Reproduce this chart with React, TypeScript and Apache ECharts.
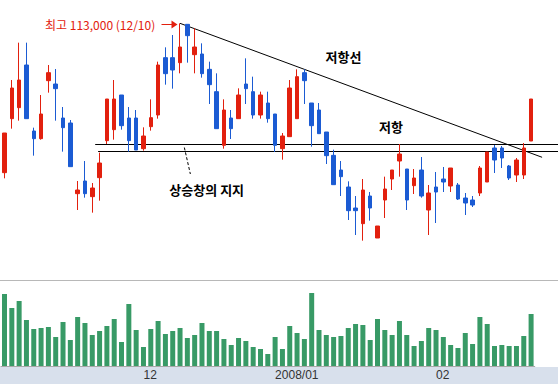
import React, { useEffect, useRef } from 'react';
import * as echarts from 'echarts';

const dates: string[] = [
  '2007/11/06', '2007/11/07', '2007/11/08', '2007/11/09', '2007/11/12', '2007/11/13', '2007/11/14', '2007/11/15',
  '2007/11/16', '2007/11/19', '2007/11/20', '2007/11/21', '2007/11/22', '2007/11/23', '2007/11/26', '2007/11/27',
  '2007/11/28', '2007/11/29', '2007/11/30',
  '2007/12/03', '2007/12/04', '2007/12/05', '2007/12/06', '2007/12/07', '2007/12/10', '2007/12/11', '2007/12/12',
  '2007/12/13', '2007/12/14', '2007/12/17', '2007/12/18', '2007/12/20', '2007/12/21', '2007/12/24', '2007/12/26',
  '2007/12/27', '2007/12/28',
  '2008/01/02', '2008/01/03', '2008/01/04', '2008/01/07', '2008/01/08', '2008/01/09', '2008/01/10', '2008/01/11',
  '2008/01/14', '2008/01/15', '2008/01/16', '2008/01/17', '2008/01/18', '2008/01/21', '2008/01/22', '2008/01/23',
  '2008/01/24', '2008/01/25', '2008/01/28', '2008/01/29', '2008/01/30', '2008/01/31',
  '2008/02/01', '2008/02/04', '2008/02/05', '2008/02/11', '2008/02/12', '2008/02/13', '2008/02/14', '2008/02/15',
  '2008/02/18', '2008/02/19', '2008/02/20', '2008/02/21', '2008/02/22', '2008/02/25',
];

// [open, close, low, high]
const candles: number[][] = [
  [90600, 96550, 89750, 96550], [98700, 103300, 97200, 104500], [100350, 104500, 98400, 110100],
  [106750, 98700, 98700, 110100], [96850, 95700, 93150, 97350], [95700, 99400, 95550, 102250],
  [104400, 105600, 102600, 106750], [103900, 103200, 98400, 106150], [98800, 97350, 93750, 100450],
  [98050, 91500, 91500, 98500], [87450, 88000, 85000, 89350], [89350, 87450, 86850, 92350],
  [87000, 88300, 84600, 89050], [89850, 92050, 86400, 93600], [95400, 101650, 94900, 101650],
  [97050, 101650, 95550, 104500], [102250, 97650, 97050, 102250], [98800, 95400, 93750, 100450],
  [98800, 94000, 94000, 100000], [94200, 96100, 93900, 97400], [97500, 98850, 96900, 101600],
  [99250, 106750, 98700, 107250], [107850, 105450, 103800, 109400], [107850, 106000, 103200, 111250],
  [107100, 109450, 105500, 113000], [112850, 111150, 107100, 112850], [108300, 109450, 105500, 112250],
  [108400, 105450, 104850, 110000], [106100, 103800, 100900, 107250], [102750, 97200, 97200, 105500],
  [94700, 100000, 94200, 101600], [98800, 97200, 95650, 100000], [98700, 102250, 98700, 103250],
  [103900, 103200, 100900, 107750], [102750, 99250, 98700, 105000], [99250, 102250, 98700, 102750],
  [101050, 98700, 98100, 102750], [99400, 94700, 93700, 99400], [94200, 96100, 92550, 96550],
  [96000, 103300, 96000, 104500], [98700, 105000, 98700, 106100], [105600, 104400, 100900, 106100],
  [101050, 97650, 94500, 101050], [100000, 96450, 96450, 101050], [96700, 93150, 91900, 96700],
  [93200, 88800, 88800, 94050], [91000, 90000, 87100, 92350], [88450, 84900, 83500, 89300],
  [85300, 84900, 81250, 87100], [82950, 88000, 80400, 89650], [87100, 85300, 83400, 87700],
  [80800, 82600, 80800, 82600], [86500, 88150, 83800, 90000], [89650, 91000, 88000, 91000],
  [92350, 93400, 90000, 94900], [91150, 86500, 85000, 91150], [88650, 89800, 87400, 91150],
  [91000, 87100, 86850, 92950], [85000, 87550, 81250, 88750], [88450, 87700, 83050, 90700],
  [89650, 89200, 87700, 91450], [88600, 91300, 87700, 91300], [88750, 86650, 86500, 89050],
  [86800, 86050, 84250, 87550], [86500, 85750, 85450, 87100], [87550, 91300, 87100, 91600],
  [89200, 93700, 89200, 93700], [94300, 92500, 90550, 94750], [94300, 92800, 91300, 94600],
  [91600, 89800, 89500, 91750], [90250, 92500, 89200, 92800], [90250, 94300, 89650, 95050],
  [95350, 101650, 95350, 101650],
];

const volumes: number[] = [
  216, 174, 195, 138, 111, 114, 117, 87, 132, 78, 147, 129, 93, 105, 120, 141, 72, 186, 108, 57,
  111, 135, 96, 105, 114, 84, 93, 129, 105, 105, 81, 63, 84, 75, 57, 51, 36, 87,
  51, 120, 99, 81, 219, 108, 93, 87, 90, 114, 126, 123, 78, 141, 108, 93, 135, 93, 60, 75,
  114, 108, 87, 63, 54, 99, 66, 147, 126, 60, 63, 60, 60, 90, 156,
];

const highLabel = '최고 113,000 (12/10)';
const resistanceLabel = '저항선';
const resistLabel = '저항';
const supportLabel = '상승창의 지지';
const resistLevel = 94800;
const supportLevel = 93800;
const trendStart = [24, 113000];
const trendThrough = [41, 106100];

const UP = '#e2200e';
const DOWN = '#1b5bd3';
const VOL = '#389a66';
const KR = '"Noto Sans CJK KR", sans-serif';

export default function App() {
  const ref = useRef<HTMLDivElement>(null);
  useEffect(() => {
    const chart = echarts.init(ref.current!, null, { renderer: 'svg' });
    const isMonthStart = (i: number) => i > 0 && dates[i].slice(0, 7) !== dates[i - 1].slice(0, 7);
    const labelOf = (i: number) =>
      i > 0 && dates[i].slice(0, 4) !== dates[i - 1].slice(0, 4) ? dates[i].slice(0, 7) : dates[i].slice(5, 7);
    const gridLeft = 0.85;
    const gridWidth = 533.9;
    chart.setOption({
      animation: false,
      grid: [
        { left: gridLeft, width: gridWidth, top: 10, height: 250 },
        { left: gridLeft, width: gridWidth, top: 281, height: 85 },
      ],
      xAxis: [
        { type: 'category', data: dates, gridIndex: 0, show: false, boundaryGap: true },
        {
          type: 'category', data: dates, gridIndex: 1, boundaryGap: true,
          axisLine: { lineStyle: { color: '#a8a8a8', width: 1 } },
          axisTick: { interval: (i: number) => isMonthStart(i), length: 18, lineStyle: { color: '#a8a8a8' } },
          axisLabel: {
            interval: (i: number) => isMonthStart(i),
            formatter: (_v: string, i: number) => labelOf(i),
            align: 'left', margin: 3, color: '#333', fontSize: 12, fontFamily: 'Liberation Sans',
          },
          splitLine: { show: false },
        },
      ],
      yAxis: [
        { gridIndex: 0, min: 77500, max: 115000, show: false },
        { gridIndex: 1, min: 0, max: 255, show: false },
      ],
      series: [
        {
          type: 'candlestick', xAxisIndex: 0, yAxisIndex: 0, data: candles, barWidth: 4,
          itemStyle: { color: UP, color0: DOWN, borderColor: UP, borderColor0: DOWN, borderWidth: 1 },
        },
        {
          type: 'bar', xAxisIndex: 1, yAxisIndex: 1, data: volumes, barWidth: 5,
          itemStyle: { color: VOL },
        },
      ],
    });

    const px = (i: number, v: number) => chart.convertToPixel({ gridIndex: 0 }, [i, v]) as number[];
    const band = gridWidth / dates.length;
    const yRes = Math.floor(px(0, resistLevel)[1]) + 0.5;
    const ySup = Math.floor(px(0, supportLevel)[1]) + 0.5;
    const xResStart = px(12, resistLevel)[0] + band * 0.4;
    const xSupStart = px(13, supportLevel)[0] - band * 0.2;
    const t1 = px(trendStart[0], trendStart[1]);
    const t2 = px(trendThrough[0], trendThrough[1]);
    const slope = (t2[1] - t1[1]) / (t2[0] - t1[0]);
    const tEndX = px(dates.length - 1, 0)[0] + 11;
    const tEndY = t1[1] + slope * (tEndX - t1[0]);
    const pointerX = px(25, 0)[0] - 3;

    chart.setOption({
      graphic: [
        { type: 'rect', z: -10, shape: { x: 0, y: 367, width: 558, height: 17 }, style: { fill: '#d8e0ec' } },
        { type: 'line', shape: { x1: 0, y1: 280.5, x2: 558, y2: 280.5 }, style: { stroke: '#b8b8b8', lineWidth: 1 } },
        { type: 'line', shape: { x1: xResStart, y1: yRes, x2: 558, y2: yRes }, style: { stroke: '#000', lineWidth: 1 } },
        { type: 'line', shape: { x1: xSupStart, y1: ySup, x2: 558, y2: ySup }, style: { stroke: '#000', lineWidth: 1 } },
        { type: 'line', shape: { x1: t1[0], y1: t1[1], x2: tEndX, y2: tEndY }, style: { stroke: '#000', lineWidth: 1 } },
        {
          type: 'line', shape: { x1: pointerX, y1: ySup - 4, x2: pointerX + 6, y2: 174 },
          style: { stroke: '#000', lineWidth: 1, lineDash: [3, 2] },
        },
        {
          type: 'text', x: 45, y: 24.5,
          style: { text: highLabel, fill: UP, fontSize: 12, fontFamily: KR, align: 'left', verticalAlign: 'middle' },
        },
        { type: 'line', shape: { x1: 161.5, y1: 24.5, x2: 172, y2: 24.5 }, style: { stroke: UP, lineWidth: 1 } },
        { type: 'polygon', shape: { points: [[171.5, 20.5], [177.5, 24.5], [171.5, 28.5]] }, style: { fill: UP } },
        {
          type: 'text', x: 343.5, y: 56.5,
          style: { text: resistanceLabel, fill: '#000', fontSize: 13, fontWeight: 'bold', fontFamily: KR, align: 'center', verticalAlign: 'middle' },
        },
        {
          type: 'text', x: 391, y: 126.5,
          style: { text: resistLabel, fill: '#000', fontSize: 13, fontWeight: 'bold', fontFamily: KR, align: 'center', verticalAlign: 'middle' },
        },
        {
          type: 'text', x: 206.7, y: 189,
          style: { text: supportLabel, fill: '#000', fontSize: 13, fontWeight: 'bold', fontFamily: KR, align: 'center', verticalAlign: 'middle' },
        },
      ],
    });
    return () => chart.dispose();
  }, []);
  return (
    <div
      ref={ref}
      style={{ position: 'absolute', left: 0, top: 0, width: 558, height: 384, background: '#fff' }}
    />
  );
}
